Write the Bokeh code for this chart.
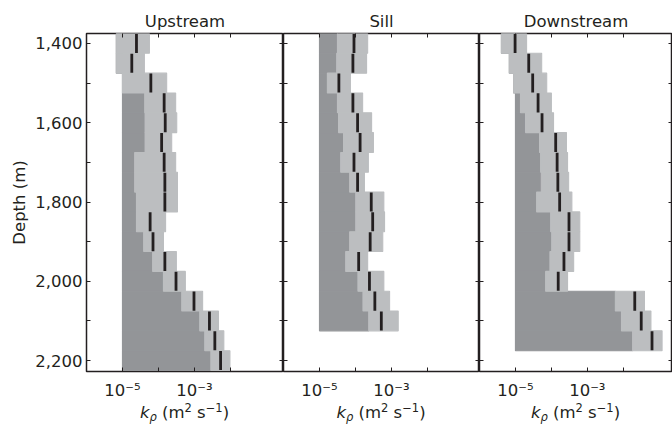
import numpy as np
from bokeh.plotting import figure
from bokeh.layouts import row, column
from bokeh.models import Range1d, FixedTicker, LinearAxis, LogAxis, Div, CustomJSTickFormatter
from bokeh.embed import file_html
from bokeh.resources import INLINE

# ---------------- data (log10 of k_rho in m^2 s^-1) ----------------
DEPTHS = [1400, 1450, 1500, 1550, 1600, 1650, 1700, 1750, 1800,
          1850, 1900, 1950, 2000, 2050, 2100, 2150, 2200]
BIN_HEIGHT = 50
FLOOR = 1e-5

up_lo = [-5.17, -5.17, -5.00, -4.38, -4.37, -4.37, -4.66, -4.66, -4.61,
         -4.61, -4.41, -4.16, -3.86, -3.35, -2.85, -2.71, -2.54]
up_est = [-4.61, -4.74, -4.21, -3.84, -3.81, -3.91, -3.84, -3.82, -3.82,
          -4.23, -4.15, -3.82, -3.51, -3.01, -2.58, -2.43, -2.27]
up_hi = [-4.25, -4.39, -3.77, -3.52, -3.49, -3.63, -3.52, -3.47, -3.47,
         -3.80, -3.86, -3.50, -3.25, -2.77, -2.33, -2.18, -2.01]

sill_lo = [-4.50, -4.52, -4.78, -4.50, -4.47, -4.33, -4.41, -4.16, -3.99,
           -3.99, -4.16, -4.27, -3.93, -3.79, -3.63]
sill_est = [-4.04, -4.07, -4.46, -4.07, -3.94, -3.87, -4.04, -3.94, -3.56,
            -3.52, -3.59, -3.91, -3.61, -3.46, -3.28]
sill_hi = [-3.66, -3.69, -4.14, -3.80, -3.55, -3.50, -3.64, -3.75, -3.21,
           -3.19, -3.24, -3.66, -3.21, -3.05, -2.81]

down_lo = [-5.39, -5.17, -5.05, -4.86, -4.72, -4.33, -4.30, -4.28, -4.41,
           -4.02, -3.99, -4.04, -4.16, -2.22, -2.05, -1.74]
down_est = [-5.01, -4.63, -4.52, -4.37, -4.26, -3.88, -3.84, -3.82, -3.77,
            -3.51, -3.51, -3.65, -3.81, -1.68, -1.50, -1.20]
down_hi = [-4.69, -4.27, -4.13, -4.00, -3.94, -3.58, -3.55, -3.52, -3.43,
           -3.21, -3.21, -3.38, -3.55, -1.41, -1.23, -0.92]

TITLES = ["Upstream", "Sill", "Downstream"]
X_TICKS = [1e-5, 1e-3]
X_MINOR = [1e-4, 1e-2]
X_TICK_LABELS = ["10\u207b\u2075", "10\u207b\u00b3"]
Y_TICKS = [1400, 1600, 1800, 2000, 2200]
Y_MINOR = [1500, 1700, 1900, 2100]
Y_TICK_LABELS = ["1,400", "1,600", "1,800", "2,000", "2,200"]
Y_LABEL = "Depth (m)"
X_LABEL_HTML = ("<i>k</i><sub style='font-size:11.5px;vertical-align:-3px;line-height:0'><i>\u03c1</i></sub>"
                " (m<sup style='font-size:11.5px;vertical-align:6px;line-height:0'>2</sup>"
                " s<sup style='font-size:11.5px;vertical-align:6px;line-height:0'>\u22121</sup>)")

# ---------------- style ----------------
INK = "#231f20"
DARK = "#939598"
LIGHT = "#bcbec0"
FONT = "DejaVu Sans"
FS = "16.5px"

FRAME_LEFTS = [86, 283, 479]
FRAME_WIDTHS = [197, 196, 193]


def style_axis(ax, ticker, labels=True):
    ax.ticker = ticker
    ax.axis_line_color = None
    ax.major_tick_in = 4
    ax.major_tick_out = 0
    ax.minor_tick_in = 4
    ax.minor_tick_out = 0
    ax.major_tick_line_color = INK
    ax.minor_tick_line_color = INK
    ax.major_tick_line_width = 1
    ax.minor_tick_line_width = 1
    ax.major_label_text_font = FONT
    ax.major_label_text_color = INK
    if labels:
        ax.major_label_text_font_size = FS
    else:
        ax.formatter = CustomJSTickFormatter(code="return '';")
        ax.major_label_text_font_size = "0px"
        ax.major_label_standoff = 0


def make_panel(title, lo_log, est_log, hi_log, width, border_left, x_end, first):
    p = figure(width=width, height=402, x_axis_type="log",
               x_range=Range1d(1e-6, x_end), y_range=Range1d(2227.5, 1375),
               output_backend="svg", toolbar_location=None,
               min_border_left=border_left, min_border_right=0,
               min_border_top=33, min_border_bottom=28, title=title)
    p.grid.visible = False
    p.background_fill_color = "white"
    p.border_fill_color = "white"
    p.outline_line_color = INK
    p.outline_line_width = 1.5
    p.outline_line_alpha = 1

    p.title.text_font = FONT
    p.title.text_font_size = FS
    p.title.text_font_style = "normal"
    p.title.text_color = INK
    p.title.align = "center"
    p.title.standoff = 5

    n = len(lo_log)
    d = np.array(DEPTHS[:n], dtype=float)
    lo = 10 ** np.array(lo_log)
    est = 10 ** np.array(est_log)
    hi = 10 ** np.array(hi_log)

    p.hbar(y=d, height=BIN_HEIGHT, left=FLOOR, right=lo,
           fill_color=DARK, line_color=DARK, line_width=1.1)
    p.hbar(y=d, height=BIN_HEIGHT, left=lo, right=hi,
           fill_color=LIGHT, line_color=LIGHT, line_width=1.1)
    p.segment(x0=est, x1=est, y0=d - BIN_HEIGHT * 0.48, y1=d + BIN_HEIGHT * 0.48,
              line_color=INK, line_width=2.8)

    xt = FixedTicker(ticks=X_TICKS, minor_ticks=X_MINOR)
    yt = FixedTicker(ticks=Y_TICKS, minor_ticks=Y_MINOR)

    style_axis(p.xaxis[0], xt)
    p.xaxis[0].major_label_overrides = dict(zip(X_TICKS, X_TICK_LABELS))
    p.xaxis[0].major_label_standoff = 9

    top = LogAxis()
    style_axis(top, FixedTicker(ticks=X_TICKS, minor_ticks=X_MINOR), labels=False)
    p.add_layout(top, "above")

    right = LinearAxis()
    style_axis(right, FixedTicker(ticks=Y_TICKS, minor_ticks=Y_MINOR), labels=False)
    p.add_layout(right, "right")

    if first:
        style_axis(p.yaxis[0], yt)
        p.yaxis[0].major_label_overrides = dict(zip(Y_TICKS, Y_TICK_LABELS))
        p.yaxis[0].major_label_standoff = 4
        p.yaxis[0].axis_label = Y_LABEL
        p.yaxis[0].axis_label_text_font = FONT
        p.yaxis[0].axis_label_text_font_size = FS
        p.yaxis[0].axis_label_text_font_style = "normal"
        p.yaxis[0].axis_label_text_color = INK
        p.yaxis[0].axis_label_standoff = 3
    else:
        style_axis(p.yaxis[0], yt, labels=False)
    return p


p1 = make_panel(TITLES[0], up_lo, up_est, up_hi, 86 + 197, 86, 10 ** -0.52, True)
p2 = make_panel(TITLES[1], sill_lo, sill_est, sill_hi, 196, 0, 10 ** -0.55, False)
p3 = make_panel(TITLES[2], down_lo, down_est, down_hi, 193, 0, 10 ** -0.63, False)

spans = "".join(
    f"<div style=\"position:absolute;left:{l}px;width:{w}px;top:2px;text-align:center;"
    f"white-space:nowrap;line-height:18px\">{X_LABEL_HTML}</div>"
    for l, w in zip(FRAME_LEFTS, FRAME_WIDTHS)
)
label_div = Div(
    text=(f"<div style=\"position:relative;width:672px;height:24px;font-family:'{FONT}';"
          f"font-size:{FS};color:{INK}\">{spans}</div>"),
    width=672, height=24, margin=0,
)

layout = column(row(p1, p2, p3, spacing=0), label_div, spacing=0)

with open("out.html", "w") as f:
    f.write(file_html(layout, INLINE))
